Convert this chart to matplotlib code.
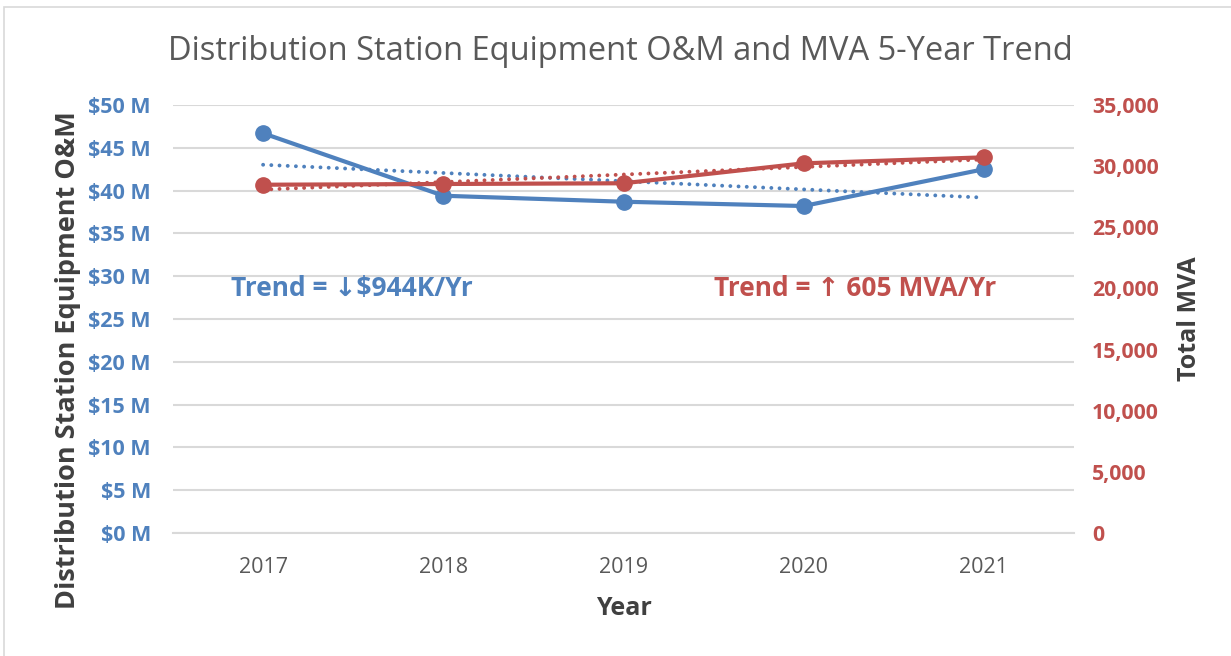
import numpy as np
import matplotlib
matplotlib.use('Agg')
import matplotlib.pyplot as plt
from matplotlib.patches import Rectangle

# data
years = [2017, 2018, 2019, 2020, 2021]
om_musd = [46.7, 39.4, 38.7, 38.2, 42.5]          # O&M, $ millions
mva = [28480, 28540, 28600, 30230, 30720]        # total MVA
left_ticks = [0, 5, 10, 15, 20, 25, 30, 35, 40, 45, 50]
right_ticks = [0, 5000, 10000, 15000, 20000, 25000, 30000, 35000]
blue_note = 'Trend = ↓$944K/Yr'
red_note = 'Trend = ↑ 605 MVA/Yr'

blue = '#4F81BD'
red = '#C0504D'
grid_c = '#D9D9D9'
fam = ['Open Sans', 'DejaVu Sans']
plt.rcParams['font.family'] = fam

fig = plt.figure(figsize=(12.31, 6.56), dpi=100)
ax1 = fig.add_axes([173 / 1231, 1 - 533 / 656, (1074 - 173) / 1231, (533 - 105) / 656])
ax2 = ax1.twinx()

# trend lines (least squares, like excel)
x = np.array(years, dtype=float)
p1 = np.polyfit(x, om_musd, 1)
p2 = np.polyfit(x, mva, 1)

dots = (0, (0.01, 2.1))
ax1.plot(x, np.polyval(p1, x), color=blue, lw=2.8, ls=dots, dash_capstyle='round', zorder=2)
ax1.plot(years, om_musd, color=blue, lw=3.0, marker='o', ms=11, zorder=3)
ax2.plot(x, np.polyval(p2, x), color=red, lw=2.8, ls=dots, dash_capstyle='round', zorder=2)
ax2.plot(years, mva, color=red, lw=3.0, marker='o', ms=11, zorder=3)

ax1.set_xlim(2016.5, 2021.5)
ax1.set_ylim(0, 50)
ax2.set_ylim(0, 35000)
ax1.set_xticks(years)
ax1.set_xticklabels([str(y) for y in years], fontsize=15.5, color='#595959')
ax1.set_yticks(left_ticks)
ax1.set_yticklabels(['$%d M' % v for v in left_ticks], fontsize=15.5, color=blue, fontweight='bold')
ax2.set_yticks(right_ticks)
ax2.set_yticklabels(['{:,}'.format(v) for v in right_ticks], fontsize=15.3, color=red, fontweight='bold')

ax1.grid(axis='y', color=grid_c, lw=1.5)
ax1.set_axisbelow(True)
for a in (ax1, ax2):
    for s in a.spines.values():
        s.set_visible(False)
    a.tick_params(length=0)
ax1.spines['bottom'].set_visible(True)
ax1.spines['bottom'].set_color(grid_c)
ax1.spines['bottom'].set_linewidth(1.5)
ax1.tick_params(axis='y', pad=16)
ax1.tick_params(axis='x', pad=17)
ax2.tick_params(axis='y', pad=13)

ax1.set_ylabel('Distribution Station Equipment O&M', fontsize=19.5, fontweight='bold', color='#404040')
ax1.yaxis.set_label_coords(-0.102, 0.404)
ax2.set_ylabel('Total MVA', fontsize=18, fontweight='bold', color='#404040')
ax2.yaxis.set_label_coords(1.114, 0.5)
ax1.set_xlabel('Year', fontsize=18, fontweight='bold', color='#404040')
ax1.xaxis.set_label_coords(0.5, -0.147)

ax1.text(2016.82, 28.6, blue_note, color=blue, fontsize=19, fontweight='bold', va='center', family=fam)
ax1.text(2019.5, 28.6, red_note, color=red, fontsize=19, fontweight='bold', va='center', family=fam)

fig.text(620 / 1231, 1 - 51 / 656, 'Distribution Station Equipment O&M and MVA 5-Year Trend',
         fontsize=23.5, color='#595959', ha='center', va='center')

fig.patches.append(Rectangle((4 / 1231, -0.02), 1.0, 1 - 7 / 656 + 0.02, transform=fig.transFigure,
                             fill=False, edgecolor=grid_c, lw=1.2))

fig.savefig('out.png', dpi=100)
